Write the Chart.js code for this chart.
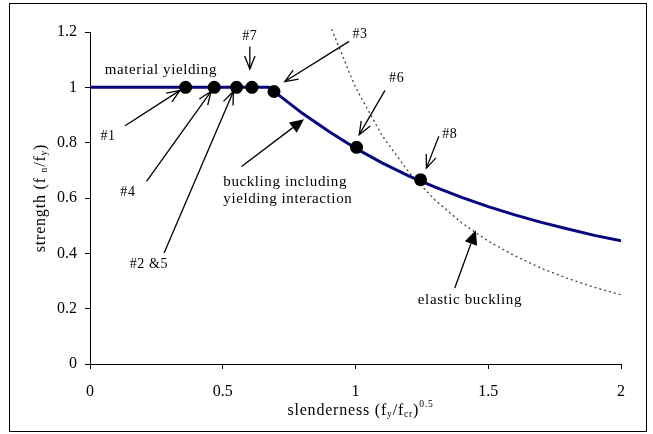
<!DOCTYPE html>
<html>
<head>
<meta charset="utf-8">
<script src="https://cdn.jsdelivr.net/npm/chart.js@4/dist/chart.umd.min.js"></script>
<style>
  html, body { margin: 0; padding: 0; background: #fff; }
  #wrap { width: 653px; height: 434px; }
</style>
</head>
<body>
<div id="wrap"><canvas id="c" width="653" height="434"></canvas></div>
<script>
// ---- data ----
const curveSlenderness = [0, 0.673, 0.7, 0.8, 0.9, 1.0, 1.1, 1.2, 1.3, 1.4, 1.5, 1.6, 1.7, 1.8, 1.9, 2.0];
const curveStrength    = [1, 1, 0.98, 0.906, 0.84, 0.78, 0.727, 0.68, 0.639, 0.602, 0.569, 0.539, 0.512, 0.488, 0.465, 0.445];

const elasticSlenderness = [0.91, 1.0, 1.1, 1.2, 1.3, 1.4, 1.5, 1.6, 1.7, 1.8, 1.9, 2.0];
const elasticStrength    = [1.21, 1.0, 0.826, 0.694, 0.592, 0.51, 0.444, 0.391, 0.346, 0.309, 0.277, 0.25];

const specimenSlenderness = [0.36, 0.468, 0.552, 0.61, 0.693, 1.004, 1.245];
const specimenStrength    = [1, 1, 1, 1, 0.985, 0.783, 0.666];

const xTicks = [0, 0.5, 1, 1.5, 2];
const yTicks = [0, 0.2, 0.4, 0.6, 0.8, 1, 1.2];

// annotation texts (positions in data units)
const noteTexts = [
  { text: 'material yielding',    x: 0.267, y: 1.064, size: 15, align: 'center' },
  { text: '#7',                   x: 0.602, y: 1.186, size: 14, align: 'center' },
  { text: '#3',                   x: 1.017, y: 1.19,  size: 14, align: 'center' },
  { text: '#1',                   x: 0.068, y: 0.823, size: 14, align: 'center' },
  { text: '#4',                   x: 0.143, y: 0.619, size: 14, align: 'center' },
  { text: '#2 &5',                x: 0.222, y: 0.359, size: 14, align: 'center' },
  { text: 'buckling including',   x: 0.502, y: 0.656, size: 15, align: 'left' },
  { text: 'yielding interaction', x: 0.502, y: 0.596, size: 15, align: 'left' },
  { text: '#6',                   x: 1.155, y: 1.031, size: 14, align: 'center' },
  { text: '#8',                   x: 1.355, y: 0.829, size: 14, align: 'center' },
  { text: 'elastic buckling',     x: 1.431, y: 0.230, size: 15, align: 'center' }
];
const noteArrows = [
  { from: [0.602, 1.148], to: [0.602, 1.066], head: 'open' },
  { from: [0.976, 1.166], to: [0.734, 1.021], head: 'open' },
  { from: [0.132, 0.861], to: [0.339, 0.989], head: 'open' },
  { from: [0.213, 0.660], to: [0.456, 0.985], head: 'open' },
  { from: [0.279, 0.401], to: [0.540, 0.985], head: 'open' },
  { from: [0.571, 0.714], to: [0.806, 0.885], head: 'filled' },
  { from: [1.111, 0.989], to: [1.014, 0.829], head: 'open' },
  { from: [1.314, 0.823], to: [1.267, 0.708], head: 'open' },
  { from: [1.374, 0.275], to: [1.453, 0.483], head: 'filled' }
];

const SERIF = '"Liberation Serif", "Times New Roman", serif';

function drawRuns(ctx, runs, x, y, size, align) {
  // runs: [text, kind] with kind '', 'sub', 'sup'
  const parts = runs.map(([t, k]) => {
    const s = k ? size * 0.6 : size;
    ctx.font = s + 'px ' + SERIF;
    return { t, k, s, w: ctx.measureText(t).width };
  });
  const total = parts.reduce((a, p) => a + p.w, 0);
  let cx = align === 'center' ? x - total / 2 : x;
  ctx.textAlign = 'left';
  ctx.textBaseline = 'alphabetic';
  for (const p of parts) {
    ctx.font = p.s + 'px ' + SERIF;
    let dy = 0;
    if (p.k === 'sub') dy = size * 0.14;
    if (p.k === 'sup') dy = -size * 0.48;
    ctx.fillText(p.t, cx, y + dy);
    cx += p.w;
  }
}

const decorPlugin = {
  id: 'decor',
  beforeDraw(chart) {
    const ctx = chart.ctx;
    ctx.save();
    ctx.fillStyle = '#fff';
    ctx.fillRect(0, 0, chart.width, chart.height);
    ctx.strokeStyle = '#000';
    ctx.lineWidth = 1;
    ctx.strokeRect(9.5, 3.5, 637, 428);
    ctx.restore();
  },
  afterDatasetsDraw(chart) {
    const ctx = chart.ctx;
    const xs = chart.scales.x, ys = chart.scales.y;
    ctx.save();
    ctx.fillStyle = '#000';
    ctx.strokeStyle = '#000';
    ctx.letterSpacing = '0.6px';
    for (const n of noteTexts) {
      ctx.font = n.size + 'px ' + SERIF;
      ctx.textAlign = n.align;
      ctx.textBaseline = 'middle';
      ctx.fillText(n.text, xs.getPixelForValue(n.x), ys.getPixelForValue(n.y));
    }
    ctx.letterSpacing = '0px';
    ctx.lineWidth = 1.3;
    for (const a of noteArrows) {
      const x1 = xs.getPixelForValue(a.from[0]), y1 = ys.getPixelForValue(a.from[1]);
      const x2 = xs.getPixelForValue(a.to[0]),   y2 = ys.getPixelForValue(a.to[1]);
      const ang = Math.atan2(y2 - y1, x2 - x1);
      ctx.beginPath();
      if (a.head === 'filled') {
        const L = 14, W = 6.5;
        const bx = x2 - L * Math.cos(ang), by = y2 - L * Math.sin(ang);
        ctx.moveTo(x1, y1); ctx.lineTo(bx, by); ctx.stroke();
        ctx.beginPath();
        ctx.moveTo(x2, y2);
        ctx.lineTo(bx + W * Math.sin(ang), by - W * Math.cos(ang));
        ctx.lineTo(bx - W * Math.sin(ang), by + W * Math.cos(ang));
        ctx.closePath();
        ctx.fill();
      } else {
        ctx.moveTo(x1, y1); ctx.lineTo(x2, y2); ctx.stroke();
        const L = 14, h = 0.38;
        ctx.beginPath();
        ctx.moveTo(x2 - L * Math.cos(ang - h), y2 - L * Math.sin(ang - h));
        ctx.lineTo(x2, y2);
        ctx.lineTo(x2 - L * Math.cos(ang + h), y2 - L * Math.sin(ang + h));
        ctx.stroke();
      }
    }
    ctx.restore();
  },
  afterDraw(chart) {
    const ctx = chart.ctx;
    const area = chart.chartArea;
    ctx.save();
    ctx.fillStyle = '#000';
    ctx.letterSpacing = '0.8px';
    // x title
    drawRuns(ctx, [['slenderness (f', ''], ['y', 'sub'], ['/f', ''], ['cr', 'sub'], [')', ''], ['0.5', 'sup']],
      (area.left + area.right) / 2 + 5, 415, 16, 'center');
    // y title
    ctx.translate(45, (area.top + area.bottom) / 2);
    ctx.rotate(-Math.PI / 2);
    drawRuns(ctx, [['strength (f ', ''], ['n', 'sub'], ['/f', ''], ['y', 'sub'], [')', '']], 0, 0, 16, 'center');
    ctx.restore();
  }
};

const xyPairs = (xa, ya) => xa.map((v, i) => ({ x: v, y: ya[i] }));

new Chart(document.getElementById('c'), {
  type: 'scatter',
  data: {
    datasets: [
      {
        label: 'specimens',
        data: xyPairs(specimenSlenderness, specimenStrength),
        showLine: false,
        pointRadius: 6.5,
        pointBackgroundColor: '#000',
        pointBorderColor: '#000',
        pointBorderWidth: 0,
        order: 0
      },
      {
        label: 'buckling including yielding interaction',
        data: xyPairs(curveSlenderness, curveStrength),
        showLine: true,
        borderColor: '#06067e',
        borderWidth: 3,
        pointRadius: 0,
        tension: 0,
        order: 1
      },
      {
        label: 'elastic buckling',
        data: xyPairs(elasticSlenderness, elasticStrength),
        showLine: true,
        borderColor: '#444',
        borderWidth: 1.3,
        borderDash: [2, 3],
        pointRadius: 0,
        tension: 0,
        clip: 8,
        order: 2
      }
    ]
  },
  options: {
    responsive: false,
    animation: false,
    devicePixelRatio: 1,
    layout: { padding: { left: 10, right: 32, top: 32, bottom: 0 } },
    plugins: { legend: { display: false }, tooltip: { enabled: false } },
    scales: {
      x: {
        type: 'linear',
        min: 0, max: 2,
        afterBuildTicks: s => { s.ticks = xTicks.map(v => ({ value: v })); },
        afterFit: s => { s.height = 70; },
        ticks: {
          color: '#000',
          font: { family: SERIF, size: 16 },
          padding: 13,
          maxRotation: 0,
          callback: v => String(v)
        },
        grid: { drawOnChartArea: false, drawTicks: true, tickLength: 5, color: '#000' },
        border: { color: '#000', width: 1 }
      },
      y: {
        type: 'linear',
        min: 0, max: 1.2,
        afterBuildTicks: s => { s.ticks = yTicks.map(v => ({ value: v })); },
        afterFit: s => { s.width = 80; },
        ticks: {
          color: '#000',
          font: { family: SERIF, size: 16 },
          padding: 8,
          callback: v => String(Math.round(v * 10) / 10)
        },
        grid: { drawOnChartArea: false, drawTicks: true, tickLength: 5, color: '#000' },
        border: { color: '#000', width: 1 }
      }
    }
  },
  plugins: [decorPlugin]
});
</script>
</body>
</html>
